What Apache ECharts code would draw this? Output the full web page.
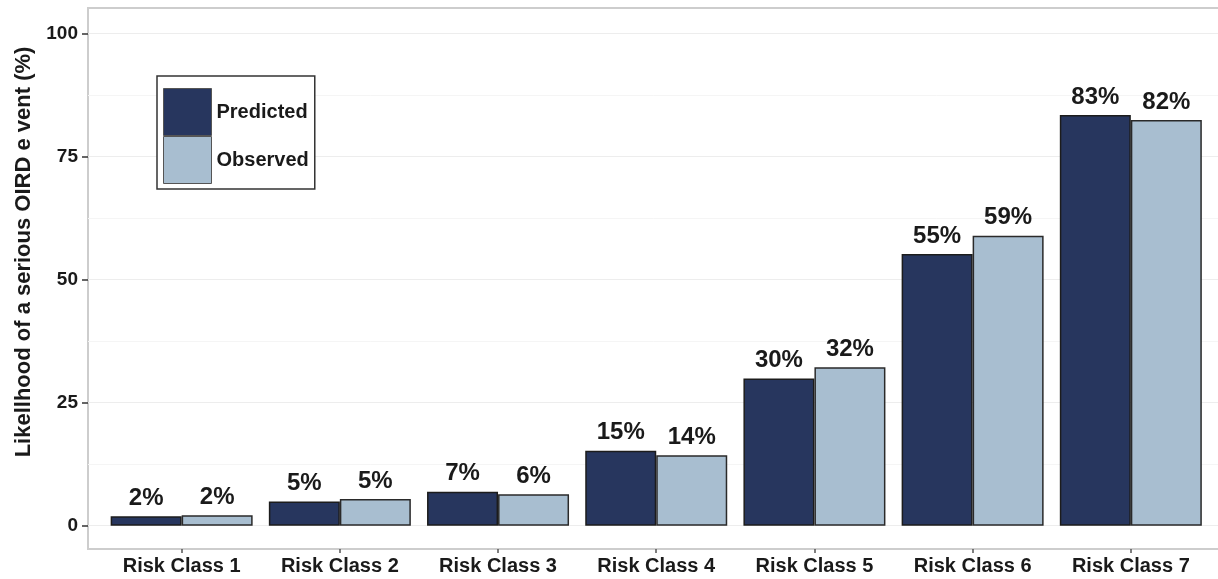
<!DOCTYPE html>
<html>
<head>
<meta charset="utf-8">
<script src="https://cdn.jsdelivr.net/npm/echarts@6/dist/echarts.min.js"></script>
<style>
  html, body { margin: 0; padding: 0; background: #fff; }
  #chart { width: 1218px; height: 579px; }
</style>
</head>
<body>
<div id="chart"></div>
<script>
const categories = ["Risk Class 1", "Risk Class 2", "Risk Class 3", "Risk Class 4", "Risk Class 5", "Risk Class 6", "Risk Class 7"];
const predicted = [1.9, 4.9, 6.9, 15.2, 29.9, 55.2, 83.4];
const observed = [2.1, 5.4, 6.4, 14.3, 32.2, 58.9, 82.4];
const yTicks = [0, 25, 50, 75, 100];

const FONT = "'Liberation Sans', Arial, sans-serif";
const TEXT = "#1a1a1a";

const chart = echarts.init(document.getElementById("chart"));

// categories sit at x = 1..7 on a value axis so the panel padding matches ggplot's
const positions = categories.map((c, i) => i + 1);
const toPoints = (vals) => vals.map((v, i) => [positions[i], v]);

const barLabel = {
  show: true,
  position: "top",
  distance: 6,
  formatter: (p) => Math.round(p.value[1]) + "%",
  color: TEXT,
  fontFamily: FONT,
  fontWeight: "bold",
  fontSize: 24,
};

const option = {
  animation: false,
  backgroundColor: "#fff",
  grid: [
    // data grid: stretched so y ticks 0..100 land on the panel, x axis pulled up with offset
    { left: 88, width: 1136, top: -89.8, height: 738.6, containLabel: false, outerBoundsMode: "none" },
    // panel border only
    { left: 88, width: 1136, top: 8, height: 541, show: true, borderColor: "#cdcdcd", borderWidth: 2, backgroundColor: "transparent", containLabel: false, outerBoundsMode: "none" },
  ],
  legend: {
    orient: "vertical",
    left: 157,
    top: 76,
    padding: [12, 6, 5, 6],
    itemWidth: 48,
    itemHeight: 47,
    itemGap: 0,
    icon: "rect",
    borderColor: "#333",
    borderWidth: 1.5,
    backgroundColor: "#fff",
    itemStyle: { borderColor: "#555", borderWidth: 1 },
    textStyle: { color: TEXT, fontFamily: FONT, fontWeight: "bold", fontSize: 20 },
    data: ["Predicted", "Observed"],
  },
  xAxis: [
    {
      type: "value",
      gridIndex: 0,
      min: 0.408,
      max: 7.589,
      offset: -99.8,
      axisLine: { show: false, onZero: false },
      splitLine: { show: false },
      axisTick: { show: true, length: 4, customValues: positions, lineStyle: { color: "#555", width: 1.5 } },
      axisLabel: {
        customValues: positions,
        margin: 7,
        formatter: (v) => categories[Math.round(v) - 1] || "",
        color: TEXT,
        fontFamily: FONT,
        fontWeight: "bold",
        fontSize: 20,
      },
    },
    { type: "value", gridIndex: 1, show: false },
  ],
  yAxis: [
    {
      type: "value",
      gridIndex: 0,
      min: -25,
      max: 125,
      interval: 25,
      name: "Likellhood of a serious OIRD e vent (%)",
      nameLocation: "middle",
      nameGap: 50,
      nameTextStyle: { color: TEXT, fontFamily: FONT, fontWeight: "bold", fontSize: 22, padding: [0, 0, 0, 55] },
      axisLine: { show: false, onZero: false },
      axisTick: { show: true, length: 6, lineStyle: { color: "#333", width: 1.5 } },
      axisLabel: {
        margin: 10,
        formatter: (v) => (yTicks.includes(v) ? String(v) : ""),
        color: TEXT,
        fontFamily: FONT,
        fontWeight: "bold",
        fontSize: 19,
      },
      splitLine: { show: true, lineStyle: { color: "#ededed", width: 1.2 } },
      minorTick: { show: false, splitNumber: 2 },
      minorSplitLine: { show: true, lineStyle: { color: "#f5f5f5", width: 1 } },
    },
    { type: "value", gridIndex: 1, show: false },
  ],
  series: [
    {
      name: "Predicted",
      type: "bar",
      xAxisIndex: 0,
      yAxisIndex: 0,
      barWidth: 71,
      barGap: "0%",
      data: toPoints(predicted),
      itemStyle: { color: "#27365e", borderColor: "#1c1c1c", borderWidth: 1.5 },
      label: barLabel,
    },
    {
      name: "Observed",
      type: "bar",
      xAxisIndex: 0,
      yAxisIndex: 0,
      barWidth: 71,
      barGap: "0%",
      data: toPoints(observed),
      itemStyle: { color: "#a8bed0", borderColor: "#2a2a2a", borderWidth: 1.5 },
      label: barLabel,
    },
  ],
};

chart.setOption(option);
</script>
</body>
</html>
